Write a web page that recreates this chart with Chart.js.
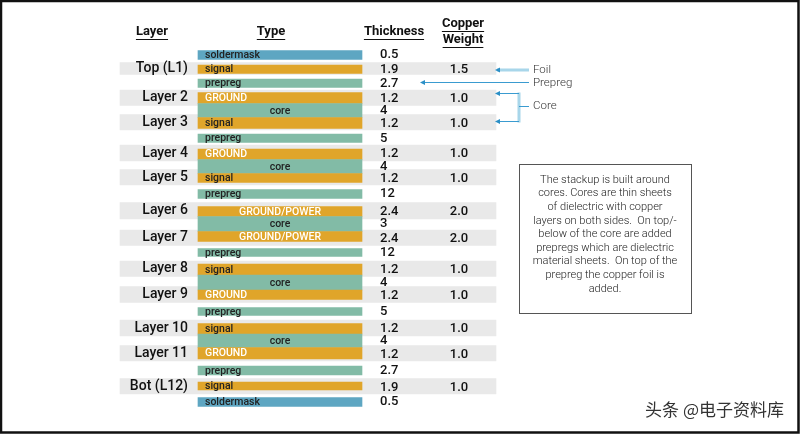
<!DOCTYPE html>
<html>
<head>
<meta charset="utf-8">
<script src="https://cdn.jsdelivr.net/npm/chart.js@4.4.1/dist/chart.umd.min.js"></script>
<style>
  html, body { margin: 0; padding: 0; background: #fff; }
  #wrap { width: 800px; height: 434px; position: relative; }
</style>
</head>
<body>
<div id="wrap"><canvas id="stackup"></canvas></div>
<script>
// stack rows, top to bottom
const layerTypes = ["soldermask", "signal", "prepreg", "GROUND", "core", "signal", "prepreg",
  "GROUND", "core", "signal", "prepreg", "GROUND/POWER", "core", "GROUND/POWER", "prepreg",
  "signal", "core", "GROUND", "prepreg", "signal", "core", "GROUND", "prepreg", "signal", "soldermask"];
const layerThickness = ["0.5", "1.9", "2.7", "1.2", "4", "1.2", "5", "1.2", "4", "1.2", "12", "2.4", "3",
  "2.4", "12", "1.2", "4", "1.2", "5", "1.2", "4", "1.2", "2.7", "1.9", "0.5"];
// drawn depth of each row (top / bottom edge)
const layerTop = [50.5, 65, 79, 92.5, 103.5, 117.5, 134, 149, 159.5, 173.5, 189.5, 206.5, 216.5,
  231.5, 248.5, 264, 275, 290, 307.5, 323.5, 334, 347.5, 366, 382, 397.5];
const layerBottom = [59.5, 73.5, 87.5, 103.5, 117.5, 128.5, 142.5, 159.5, 173.5, 182.5, 198.5, 216.5,
  231.5, 241.5, 256.5, 275, 290, 299.5, 315.5, 334, 347.5, 359, 375, 390, 406.5];

// copper layers
const copperNames = ["Top (L1)", "Layer 2", "Layer 3", "Layer 4", "Layer 5", "Layer 6", "Layer 7",
  "Layer 8", "Layer 9", "Layer 10", "Layer 11", "Bot (L12)"];
const copperWeights = ["1.5", "1.0", "1.0", "1.0", "1.0", "2.0", "2.0", "1.0", "1.0", "1.0", "1.0", "1.0"];
const copperRow = [1, 3, 5, 7, 9, 11, 13, 15, 17, 19, 21, 23];
const bandTop = [62.5, 90, 114.5, 145, 169.5, 202.5, 230, 261, 286.5, 320, 345.5, 378.5];
const bandBottom = [74.5, 105.5, 130, 161, 185, 219, 245.5, 276.5, 302.5, 336, 361, 394];

const typeColors = {
  soldermask: "#5ea6c2",
  signal: "#e0a52a",
  GROUND: "#e0a52a",
  "GROUND/POWER": "#e0a52a",
  prepreg: "#82bba6",
  core: "#82bba6"
};

const noteLines = [
  "The stackup is built around",
  "cores. Cores are thin sheets",
  "of dielectric with copper",
  "layers on both sides.  On top/-",
  "below of the core are added",
  "prepregs which are dielectric",
  "material sheets.  On top of the",
  "prepreg the copper foil is",
  "added."
];

const FONT = "Roboto, 'Noto Sans', sans-serif";
const TYPE_X = 280, BAND_X = 308;

// text, headers, notes and arrows
const stackText = {
  id: "stackText",
  afterDatasetsDraw(chart) {
    const ctx = chart.ctx;
    const x = chart.scales.x, y = chart.scales.y;
    const px = v => x.getPixelForValue(v);
    const py = v => y.getPixelForValue(v);
    ctx.save();
    ctx.textBaseline = "middle";

    // column headers
    ctx.fillStyle = "#111";
    ctx.strokeStyle = "#111";
    ctx.lineWidth = 1;
    ctx.font = "bold 13px " + FONT;
    ctx.textAlign = "center";
    const heads = [["Layer", 152, 32], ["Type", 271, 32], ["Thickness", 394, 32], ["Copper", 463, 24], ["Weight", 463, 40]];
    heads.forEach(([t, hx, hy]) => {
      ctx.fillText(t, hx, hy);
      const w = ctx.measureText(t).width;
      ctx.beginPath();
      ctx.moveTo(hx - w / 2, hy + 7.5);
      ctx.lineTo(hx + w / 2, hy + 7.5);
      ctx.stroke();
    });

    // type labels inside the bars
    ctx.font = "500 10.5px " + FONT;
    layerTypes.forEach((t, i) => {
      const cy = py((layerTop[i] + layerBottom[i]) / 2) + 0.5;
      ctx.fillStyle = t.startsWith("GROUND") ? "#fff" : "#222";
      if (t === "core" || t === "GROUND/POWER") {
        ctx.textAlign = "center";
        ctx.fillText(t, px(TYPE_X), cy);
      } else {
        ctx.textAlign = "left";
        ctx.fillText(t, px(205), cy);
      }
    });

    // thickness column
    ctx.font = "500 13px " + FONT;
    ctx.fillStyle = "#111";
    ctx.textAlign = "left";
    layerThickness.forEach((t, i) => {
      const k = copperRow.indexOf(i);
      const cy = k >= 0 ? (bandTop[k] + bandBottom[k]) / 2 + 1 : (layerTop[i] + layerBottom[i]) / 2;
      ctx.fillText(t, px(380), py(cy));
    });

    // layer names and copper weights
    copperNames.forEach((n, k) => {
      const cy = py((bandTop[k] + bandBottom[k]) / 2);
      ctx.textAlign = "right";
      ctx.font = "500 14px " + FONT;
      ctx.fillText(n, px(188), cy);
      ctx.textAlign = "center";
      ctx.font = "500 13px " + FONT;
      ctx.fillText(copperWeights[k], px(459), cy + 1);
    });

    // callouts
    const arrowHead = (ax, ay) => {
      ctx.fillStyle = "#2b8fc6";
      ctx.beginPath();
      ctx.moveTo(ax, ay);
      ctx.lineTo(ax + 5, ay - 2.5);
      ctx.lineTo(ax + 5, ay + 2.5);
      ctx.closePath();
      ctx.fill();
    };
    ctx.lineWidth = 3;
    ctx.strokeStyle = "#a8d6ea";
    ctx.beginPath();
    ctx.moveTo(497, 70); ctx.lineTo(529, 70);
    ctx.moveTo(519, 92.5); ctx.lineTo(519, 122.5);
    ctx.stroke();
    ctx.lineWidth = 1;
    ctx.strokeStyle = "#3a9bd0";
    ctx.beginPath();
    ctx.moveTo(423, 82.5); ctx.lineTo(529, 82.5);
    ctx.moveTo(498, 93.5); ctx.lineTo(519, 93.5);
    ctx.moveTo(498, 121.5); ctx.lineTo(519, 121.5);
    ctx.moveTo(519, 106.5); ctx.lineTo(529, 106.5);
    ctx.stroke();
    arrowHead(495, 70);
    arrowHead(420, 82.5);
    arrowHead(495, 93.5);
    arrowHead(495, 121.5);
    ctx.fillStyle = "#333";
    ctx.font = "300 11.5px " + FONT;
    ctx.textAlign = "left";
    ctx.fillText("Foil", 533, 70);
    ctx.fillText("Prepreg", 533, 83);
    ctx.fillText("Core", 533, 106);

    // note box
    ctx.strokeStyle = "#555";
    ctx.strokeRect(519.5, 164.5, 172, 149);
    ctx.fillStyle = "#222";
    ctx.font = "300 11px " + FONT;
    ctx.textAlign = "center";
    noteLines.forEach((l, i) => ctx.fillText(l, 605, 180 + i * 13.6));

    // watermark
    ctx.font = "17px 'Noto Sans CJK SC', sans-serif";
    ctx.textAlign = "right";
    ctx.lineWidth = 3;
    ctx.strokeStyle = "#fff";
    ctx.strokeText("头条 @电子资料库", 784, 410);
    ctx.fillStyle = "#333";
    ctx.fillText("头条 @电子资料库", 784, 410);

    // frame
    ctx.lineWidth = 2.5;
    ctx.strokeStyle = "#111";
    ctx.strokeRect(1, 1, 797.5, 431.5);
    ctx.restore();
  }
};

new Chart(document.getElementById("stackup"), {
  type: "bar",
  data: {
    datasets: [
      {
        label: "layers",
        data: layerTypes.map((t, i) => ({ x: TYPE_X, y: [layerTop[i], layerBottom[i]] })),
        backgroundColor: layerTypes.map(t => typeColors[t]),
        barThickness: 164,
        grouped: false,
        order: 1
      },
      {
        label: "copper bands",
        data: copperNames.map((n, k) => ({ x: BAND_X, y: [bandTop[k], bandBottom[k]] })),
        backgroundColor: "#e9e9e9",
        barThickness: 376,
        grouped: false,
        order: 2
      }
    ]
  },
  options: {
    responsive: true,
    maintainAspectRatio: false,
    animation: false,
    layout: { padding: 0 },
    plugins: {
      legend: { display: false },
      tooltip: { enabled: false }
    },
    scales: {
      x: { type: "linear", min: 0, max: 800, offset: false, display: false },
      y: { type: "linear", min: 0, max: 434, reverse: true, display: false }
    }
  },
  plugins: [stackText]
});
</script>
</body>
</html>
